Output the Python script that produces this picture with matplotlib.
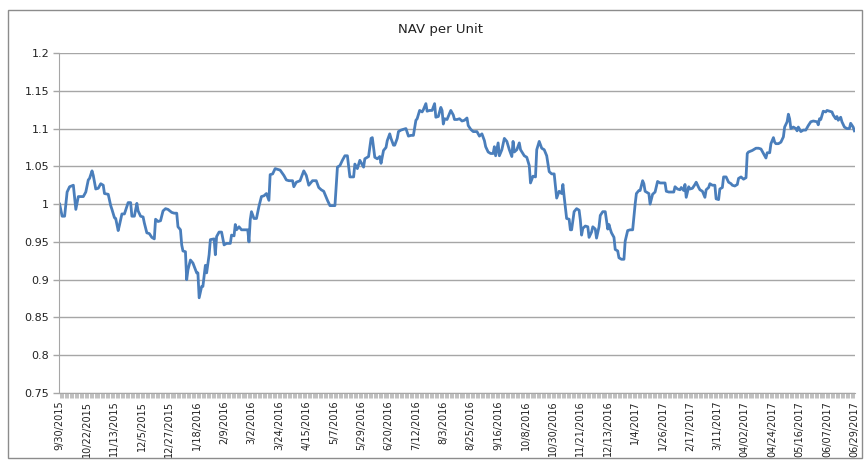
import matplotlib
matplotlib.use("Agg")
import matplotlib.pyplot as plt
from matplotlib.patches import Rectangle

# Daily category axis: day 0 = 9/30/2015 ... day 638 = 6/29/2017
n_days = 639

day_idx = [0, 2, 4, 6, 8, 11, 13, 15, 19, 21, 23, 24, 26, 27, 29, 31, 33, 35, 36, 39,
           41, 42, 44, 45, 47, 48, 50, 52, 53, 55, 57, 58, 60, 62, 63, 65, 67, 68, 70, 72,
           74, 76, 77, 79, 81, 83, 85, 87, 90, 92, 94, 95, 97, 98, 99, 101, 102, 103, 105, 107,
           110, 111, 112, 114, 115, 117, 118, 120, 121, 124, 125, 126, 128, 130, 132, 134, 137, 138, 140, 141,
           142, 144, 146, 147, 151, 152, 153, 154, 156, 158, 160, 162, 164, 166, 168, 169, 171, 173, 177, 180,
           182, 184, 187, 188, 190, 193, 196, 198, 200, 203, 206, 208, 210, 212, 215, 217, 221, 223, 225, 227,
           229, 231, 233, 236, 237, 239, 241, 244, 245, 248, 250, 251, 253, 255, 257, 258, 260, 262, 263, 265,
           266, 268, 269, 271, 272, 274, 278, 280, 282, 284, 286, 287, 289, 291, 292, 294, 295, 297, 299, 301,
           302, 304, 306, 307, 308, 309, 311, 314, 316, 317, 319, 321, 323, 325, 327, 328, 330, 332, 335, 337,
           339, 341, 342, 344, 346, 348, 349, 350, 352, 353, 355, 357, 359, 361, 363, 364, 365, 367, 369, 370,
           373, 375, 377, 378, 380, 382, 383, 385, 387, 389, 391, 393, 395, 397, 399, 401, 403, 404, 405, 407,
           409, 410, 411, 413, 415, 417, 418, 419, 420, 422, 424, 425, 427, 428, 430, 431, 433, 434, 436, 438,
           440, 441, 442, 443, 445, 446, 448, 449, 451, 453, 454, 456, 458, 460, 462, 463, 465, 466, 468, 469,
           470, 473, 474, 476, 478, 480, 482, 484, 486, 487, 489, 491, 493, 494, 496, 498, 499, 501, 502, 503,
           505, 506, 508, 510, 511, 513, 514, 516, 518, 519, 521, 522, 524, 526, 527, 529, 530, 532, 533, 535,
           537, 539, 540, 542, 544, 545, 547, 549, 551, 552, 553, 556, 559, 561, 563, 565, 567, 568, 570, 571,
           573, 574, 575, 577, 579, 581, 582, 584, 585, 586, 587, 589, 591, 592, 593, 595, 597, 599, 601, 603,
           605, 608, 609, 610, 611, 613, 615, 616, 618, 620, 621, 623, 624, 625, 627, 628, 630, 632, 634, 635,
           637, 638]

nav = [1.000, 0.984, 0.984, 1.016, 1.023, 1.025, 0.993, 1.010, 1.010, 1.016, 1.032, 1.034, 1.044, 1.038, 1.020, 1.021, 1.027, 1.025, 1.014, 1.013,
       0.998, 0.993, 0.982, 0.981, 0.965, 0.972, 0.987, 0.987, 0.992, 1.002, 1.002, 0.984, 0.984, 1.001, 0.991, 0.984, 0.983, 0.975, 0.962, 0.961,
       0.956, 0.954, 0.980, 0.977, 0.978, 0.991, 0.994, 0.993, 0.989, 0.988, 0.988, 0.970, 0.966, 0.946, 0.938, 0.937, 0.900, 0.913, 0.926, 0.922,
       0.909, 0.909, 0.876, 0.891, 0.891, 0.919, 0.909, 0.933, 0.953, 0.954, 0.933, 0.957, 0.963, 0.963, 0.946, 0.948, 0.948, 0.959, 0.958, 0.973,
       0.966, 0.970, 0.966, 0.966, 0.966, 0.950, 0.979, 0.990, 0.981, 0.981, 0.997, 1.010, 1.011, 1.014, 1.005, 1.039, 1.040, 1.047, 1.045, 1.038,
       1.032, 1.031, 1.031, 1.023, 1.029, 1.031, 1.044, 1.038, 1.025, 1.031, 1.031, 1.022, 1.019, 1.017, 1.005, 0.998, 0.998, 1.049, 1.051, 1.058,
       1.064, 1.064, 1.036, 1.036, 1.053, 1.047, 1.058, 1.049, 1.060, 1.063, 1.087, 1.088, 1.062, 1.060, 1.063, 1.054, 1.071, 1.075, 1.084, 1.093,
       1.087, 1.078, 1.078, 1.087, 1.096, 1.098, 1.100, 1.090, 1.091, 1.091, 1.111, 1.113, 1.124, 1.122, 1.125, 1.133, 1.123, 1.124, 1.124, 1.133,
       1.115, 1.116, 1.128, 1.124, 1.106, 1.113, 1.112, 1.124, 1.118, 1.112, 1.112, 1.113, 1.110, 1.111, 1.114, 1.104, 1.099, 1.096, 1.096, 1.090,
       1.093, 1.084, 1.076, 1.069, 1.067, 1.067, 1.076, 1.064, 1.081, 1.064, 1.072, 1.087, 1.083, 1.072, 1.063, 1.083, 1.069, 1.072, 1.081, 1.072,
       1.064, 1.062, 1.051, 1.028, 1.037, 1.036, 1.072, 1.083, 1.074, 1.072, 1.064, 1.043, 1.040, 1.040, 1.008, 1.017, 1.014, 1.026, 1.010, 0.981,
       0.980, 0.966, 0.966, 0.990, 0.994, 0.992, 0.979, 0.959, 0.968, 0.971, 0.970, 0.956, 0.963, 0.970, 0.967, 0.955, 0.970, 0.985, 0.990, 0.990,
       0.967, 0.973, 0.967, 0.962, 0.956, 0.940, 0.938, 0.929, 0.927, 0.927, 0.951, 0.965, 0.966, 0.966, 1.000, 1.014, 1.018, 1.018, 1.031, 1.027,
       1.017, 1.014, 1.000, 1.013, 1.016, 1.030, 1.028, 1.028, 1.028, 1.017, 1.016, 1.016, 1.016, 1.023, 1.020, 1.019, 1.022, 1.018, 1.026, 1.009,
       1.023, 1.020, 1.021, 1.026, 1.029, 1.022, 1.019, 1.017, 1.009, 1.019, 1.022, 1.027, 1.025, 1.025, 1.007, 1.006, 1.020, 1.022, 1.036, 1.036,
       1.029, 1.027, 1.025, 1.024, 1.026, 1.034, 1.036, 1.033, 1.035, 1.067, 1.069, 1.071, 1.074, 1.074, 1.073, 1.067, 1.061, 1.068, 1.068, 1.080,
       1.088, 1.082, 1.080, 1.080, 1.082, 1.089, 1.102, 1.109, 1.119, 1.113, 1.100, 1.102, 1.100, 1.097, 1.102, 1.096, 1.098, 1.098, 1.104, 1.109,
       1.110, 1.109, 1.105, 1.113, 1.112, 1.123, 1.122, 1.124, 1.123, 1.122, 1.118, 1.113, 1.116, 1.111, 1.115, 1.109, 1.102, 1.100, 1.100, 1.107,
       1.102, 1.097]

# Labelled categories (every 22nd day)
tick_labels = ['9/30/2015', '10/22/2015', '11/13/2015', '12/5/2015', '12/27/2015', '1/18/2016',
               '2/9/2016', '3/2/2016', '3/24/2016', '4/15/2016', '5/7/2016', '5/29/2016',
               '6/20/2016', '7/12/2016', '8/3/2016', '8/25/2016', '9/16/2016', '10/8/2016',
               '10/30/2016', '11/21/2016', '12/13/2016', '1/4/2017', '1/26/2017', '2/17/2017',
               '3/11/2017', '04/02/2017', '04/24/2017', '05/16/2017', '06/07/2017', '06/29/2017']
y_ticks = [0.75, 0.8, 0.85, 0.9, 0.95, 1, 1.05, 1.1, 1.15, 1.2]
y_labels = ['0.75', '0.8', '0.85', '0.9', '0.95', '1', '1.05', '1.1', '1.15', '1.2']

grey = '#a6a6a6'

fig = plt.figure(figsize=(8.64, 4.61), dpi=100)
ax = fig.add_axes([0.0683, 0.1475, 0.9213, 0.7375])

# chart border
fig.patches.append(Rectangle((8 / 864, 1 - 458 / 461), 854 / 864, 448 / 461,
                             transform=fig.transFigure, fill=False, edgecolor='#8c8c8c', lw=1))

ax.plot(day_idx, nav, color='#4a7ebb', lw=2.0, solid_joinstyle='round')

ax.set_xlim(-0.5, n_days - 0.5)
ax.set_ylim(0.75, 1.2)
ax.set_yticks(y_ticks)
ax.set_yticklabels(y_labels, fontsize=8, color='#222222')
ax.yaxis.grid(True, color=grey, lw=1)
ax.set_axisbelow(True)

ax.set_xticks(range(0, n_days, 22))
ax.set_xticklabels(tick_labels, rotation=90, fontsize=7, color='#222222')
ax.set_xticks(range(n_days), minor=True)
ax.tick_params(axis='x', which='both', length=3.5, width=0.5, color=grey, pad=2)
ax.tick_params(axis='y', length=4, width=1, color=grey, pad=3)

for side in ['top', 'right']:
    ax.spines[side].set_visible(False)
ax.spines['left'].set_color(grey)
ax.spines['bottom'].set_color(grey)

fig.text(0.51, 1 - 29 / 461, 'NAV per Unit', ha='center', va='center', fontsize=9.5, color='#222222')

plt.savefig('out.png', dpi=100)
